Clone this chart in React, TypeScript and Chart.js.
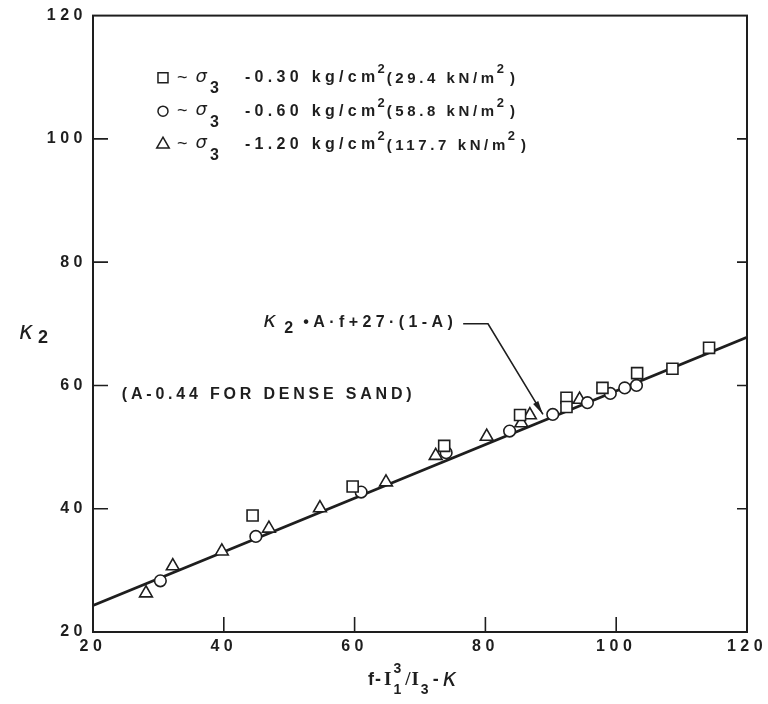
import React, { useEffect, useRef } from 'react';
import { Chart, registerables } from 'chart.js';

Chart.register(...registerables);

// ---- data ----
const xTickValues = [20, 40, 60, 80, 100, 120];
const yTickValues = [20, 40, 60, 80, 100, 120];

// sigma3 = 0.30 kg/cm2 (squares)
const sqF = [44.4, 59.7, 73.7, 85.3, 92.4, 92.4, 97.9, 103.2, 108.6, 114.2];
const sqK = [38.9, 43.6, 50.2, 55.2, 58.0, 56.5, 59.6, 62.0, 62.7, 66.1];

// sigma3 = 0.60 kg/cm2 (circles)
const ciF = [30.3, 44.9, 61.0, 74.0, 83.7, 90.3, 95.6, 99.1, 101.3, 103.1];
const ciK = [28.3, 35.5, 42.7, 49.1, 52.6, 55.3, 57.2, 58.7, 59.6, 60.0];

// sigma3 = 1.20 kg/cm2 (triangles)
const trF = [28.1, 32.2, 39.7, 46.9, 54.7, 64.8, 72.4, 80.2, 85.5, 86.8, 94.4];
const trK = [26.3, 30.7, 33.1, 36.8, 40.1, 44.3, 48.6, 51.7, 53.9, 55.2, 57.7];

// fitted line K2 = A*f + 27*(1-A), end points
const fitF = [20, 120];
const fitK = [24.3, 67.8];

const legendKg = ['-0.30', '-0.60', '-1.20'];
const legendKn = ['29.4', '58.8', '117.7'];
const legendShapes = ['rect', 'circle', 'triangle'];

const SANS = '"Liberation Sans", Arial, sans-serif';
const INK = '#1e1e1e';

function drawShape(ctx: CanvasRenderingContext2D, kind: string, x: number, y: number, s: number) {
  ctx.beginPath();
  if (kind === 'rect') {
    ctx.rect(x - s / 2, y - s / 2, s, s);
  } else if (kind === 'circle') {
    ctx.arc(x, y, s / 2, 0, Math.PI * 2);
  } else {
    const r = s * 0.6;
    ctx.moveTo(x, y - r);
    ctx.lineTo(x + r * 0.866, y + r * 0.5);
    ctx.lineTo(x - r * 0.866, y + r * 0.5);
    ctx.closePath();
  }
  ctx.fillStyle = '#fff';
  ctx.fill();
  ctx.lineWidth = 1.5;
  ctx.strokeStyle = INK;
  ctx.stroke();
}

function txt(
  ctx: CanvasRenderingContext2D,
  s: string,
  x: number,
  y: number,
  size: number,
  opt: { italic?: boolean; bold?: boolean; sp?: number; family?: string; align?: CanvasTextAlign } = {}
) {
  ctx.font = `${opt.italic ? 'italic ' : ''}${opt.bold === false ? '' : 'bold '}${size}px ${opt.family || SANS}`;
  (ctx as any).letterSpacing = `${opt.sp ?? 0}px`;
  ctx.textAlign = opt.align || 'left';
  ctx.textBaseline = 'middle';
  ctx.fillStyle = INK;
  ctx.fillText(s, x, y);
  const w = ctx.measureText(s).width;
  return x + w;
}

const decorPlugin = {
  id: 'decor',
  beforeDraw(chart: any) {
    (chart.ctx as any).letterSpacing = '4.5px';
  },
  beforeDatasetsDraw(chart: any) {
    (chart.ctx as any).letterSpacing = '0px';
  },
  afterDraw(chart: any) {
    const ctx: CanvasRenderingContext2D = chart.ctx;
    const xs = chart.scales.x;
    const ys = chart.scales.y;
    const { left, right, top, bottom } = chart.chartArea;
    const px = (v: number) => xs.getPixelForValue(v);
    const py = (v: number) => ys.getPixelForValue(v);
    ctx.save();

    // frame
    ctx.strokeStyle = INK;
    ctx.lineWidth = 2;
    ctx.strokeRect(left, top, right - left, bottom - top);

    // inward tick marks
    ctx.lineWidth = 1.6;
    ctx.beginPath();
    xTickValues.slice(1, -1).forEach((v) => {
      ctx.moveTo(px(v), bottom);
      ctx.lineTo(px(v), bottom - 15);
    });
    yTickValues.slice(1, -1).forEach((v) => {
      ctx.moveTo(left, py(v));
      ctx.lineTo(left + 15, py(v));
      ctx.moveTo(right, py(v));
      ctx.lineTo(right - 10, py(v));
    });
    ctx.stroke();

    // legend block
    const legendY = [109.9, 104.5, 99.1];
    legendKg.forEach((kg, i) => {
      const y = py(legendY[i]);
      const x0 = px(30.7);
      drawShape(ctx, legendShapes[i], x0, y, i === 2 ? 12 : 10);
      let x = txt(ctx, '~', x0 + 14, y, 18, { bold: false });
      x = txt(ctx, 'σ', x + 8, y - 1, 18, { italic: true, bold: false, family: '"DejaVu Sans", sans-serif' });
      x = txt(ctx, '3', x + 3, y + 11, 16);
      x = txt(ctx, kg + ' kg/cm', x0 + 82, y, 16, { sp: 4.3 });
      x = txt(ctx, '2', x - 2, y - 8, 13);
      x = txt(ctx, '(' + legendKn[i] + ' kN/m', x + 2, y + 1, 15, { sp: 3.6 });
      x = txt(ctx, '2', x - 1, y - 8, 13);
      txt(ctx, ')', x + 6, y + 1, 15);
    });

    // dense sand note
    txt(ctx, '(A-0.44 FOR DENSE SAND)', px(24.4), py(58.5), 16, { sp: 3.8 });

    // formula with leader arrow
    const fy = py(70.2);
    const fEnd = px(75.7);
    ctx.font = `bold 16px ${SANS}`;
    (ctx as any).letterSpacing = '4.4px';
    const body = '•A·f+27·(1-A)';
    const bw = ctx.measureText(body).width;
    const bStart = fEnd - bw;
    txt(ctx, body, bStart, fy, 16, { sp: 4.4 });
    txt(ctx, '2', bStart - 19, fy + 6, 16);
    txt(ctx, 'κ', bStart - 40, fy - 1, 22, { italic: true, bold: false, family: '"DejaVu Sans", sans-serif' });

    const a0x = px(76.6), a1x = px(80.4), a2x = px(88.8);
    const ay = py(70.0), tipY = py(55.3);
    ctx.strokeStyle = INK;
    ctx.lineWidth = 1.6;
    ctx.beginPath();
    ctx.moveTo(a0x, ay);
    ctx.lineTo(a1x, ay);
    ctx.lineTo(a2x, tipY);
    ctx.stroke();
    const ang = Math.atan2(tipY - ay, a2x - a1x);
    ctx.beginPath();
    ctx.moveTo(a2x, tipY);
    ctx.lineTo(a2x - 14 * Math.cos(ang) + 3 * Math.sin(ang), tipY - 14 * Math.sin(ang) - 3 * Math.cos(ang));
    ctx.lineTo(a2x - 14 * Math.cos(ang) - 3 * Math.sin(ang), tipY - 14 * Math.sin(ang) + 3 * Math.cos(ang));
    ctx.closePath();
    ctx.fillStyle = INK;
    ctx.fill();

    // y axis title
    const tY = py(68.5);
    txt(ctx, 'κ', left - 74, tY, 24, { italic: true, bold: false, family: '"DejaVu Sans", sans-serif' });
    txt(ctx, '2', left - 55, tY + 5, 18);

    // x axis title
    const tx0 = (left + right) / 2 - 52;
    const tyy = bottom + 48;
    let x = txt(ctx, 'f-', tx0, tyy, 18, { sp: 1 });
    x = txt(ctx, 'I', x + 2, tyy, 19, { family: '"Liberation Serif", serif' });
    txt(ctx, '3', x + 2, tyy - 11, 14);
    x = txt(ctx, '1', x + 2, tyy + 10, 14);
    x = txt(ctx, '/I', x + 4, tyy, 19, { family: '"Liberation Serif", serif', sp: 1 });
    x = txt(ctx, '3', x + 1, tyy + 10, 14);
    x = txt(ctx, '-', x + 4, tyy, 18);
    txt(ctx, 'κ', x + 4, tyy, 24, { italic: true, bold: false, family: '"DejaVu Sans", sans-serif' });

    (ctx as any).letterSpacing = '0px';
    ctx.restore();
  },
};

export default function App() {
  const ref = useRef<HTMLCanvasElement>(null);

  useEffect(() => {
    if (!ref.current) return;
    const pts = (f: number[], k: number[]) => f.map((v, i) => ({ x: v, y: k[i] }));
    const markerCommon = {
      borderColor: INK,
      backgroundColor: '#ffffff',
      borderWidth: 1.6,
      showLine: false,
    };
    const chart = new Chart(ref.current, {
      type: 'scatter',
      data: {
        datasets: [
          { label: 'σ3 = 0.30 kg/cm²', data: pts(sqF, sqK), pointStyle: 'rect', pointRadius: 7.8, ...markerCommon } as any,
          { label: 'σ3 = 0.60 kg/cm²', data: pts(ciF, ciK), pointStyle: 'circle', pointRadius: 5.8, ...markerCommon } as any,
          { label: 'σ3 = 1.20 kg/cm²', data: pts(trF, trK), pointStyle: 'triangle', pointRadius: 7.4, ...markerCommon } as any,
          {
            label: 'K2 = A·f + 27·(1-A)',
            data: pts(fitF, fitK),
            showLine: true,
            borderColor: INK,
            borderWidth: 2.8,
            pointRadius: 0,
          } as any,
        ],
      },
      options: {
        responsive: false,
        devicePixelRatio: 1,
        animation: false,
        layout: { padding: { top: 14, right: 21, left: 0, bottom: 0 } },
        plugins: {
          legend: { display: false },
          tooltip: { enabled: false },
        },
        scales: {
          x: {
            type: 'linear',
            min: 20,
            max: 120,
            afterBuildTicks: (s: any) => {
              s.ticks = xTickValues.map((v) => ({ value: v }));
            },
            ticks: { font: { family: SANS, size: 16, weight: 'bold' }, color: INK, padding: 5, maxRotation: 0, autoSkip: false },
            grid: { display: false, drawTicks: false },
            border: { display: false },
            afterFit: (s: any) => {
              s.height = 72;
            },
          },
          y: {
            type: 'linear',
            min: 20,
            max: 120,
            afterBuildTicks: (s: any) => {
              s.ticks = yTickValues.map((v) => ({ value: v }));
            },
            ticks: { font: { family: SANS, size: 16, weight: 'bold' }, color: INK, padding: 6, autoSkip: false },
            grid: { display: false, drawTicks: false },
            border: { display: false },
            afterFit: (s: any) => {
              s.width = 93;
            },
          },
        },
      } as any,
      plugins: [decorPlugin],
    });
    return () => chart.destroy();
  }, []);

  return (
    <div style={{ position: 'absolute', left: 0, top: 0, width: 768, height: 704, background: '#fff' }}>
      <canvas ref={ref} width={768} height={704} style={{ display: 'block', width: 768, height: 704 }} />
    </div>
  );
}
